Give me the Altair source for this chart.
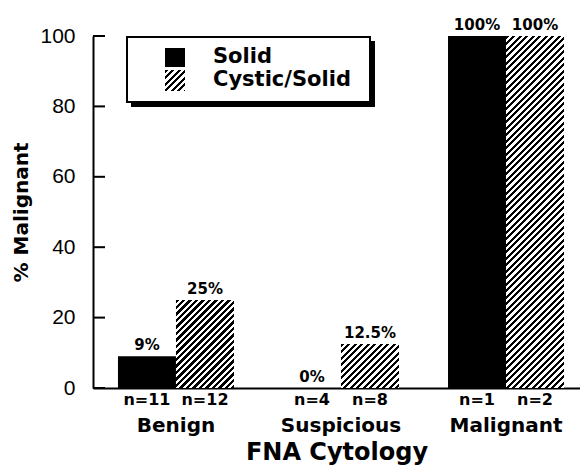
import altair as alt
import pandas as pd

groups = ["Benign", "Suspicious", "Malignant"]
series = ["Solid", "Cystic/Solid"]
solid_vals = [9, 0, 100]
cystic_vals = [25, 12.5, 100]
solid_pct = ["9%", "0%", "100%"]
cystic_pct = ["25%", "12.5%", "100%"]
solid_n = ["n=11", "n=4", "n=1"]
cystic_n = ["n=12", "n=8", "n=2"]
y_ticks = [0, 20, 40, 60, 80, 100]

rows = []
for i, g in enumerate(groups):
    rows.append({"group": g, "series": series[0], "value": solid_vals[i], "pct": solid_pct[i], "n": solid_n[i]})
    rows.append({"group": g, "series": series[1], "value": cystic_vals[i], "pct": cystic_pct[i], "n": cystic_n[i]})
df = pd.DataFrame(rows)

W, H = 487, 352
PI = 0.297
PO = 0.124
ALIGN = 0.61
step = W / (len(groups) - PI + 2 * PO)
bar_w = step * (1 - PI) / 2
BOLD = "DejaVu Sans"


def hatch(w, h, period=6.5, frac=0.5):
    total = w + h
    p = period / total
    stops = []
    k = 0
    while k * p < 1:
        a = k * p
        b = min((k + frac) * p, 1)
        c = min((k + 1) * p, 1)
        stops += [{"offset": a, "color": "black"}, {"offset": b, "color": "black"},
                  {"offset": b, "color": "white"}, {"offset": c, "color": "white"}]
        k += 1
    s = w * w + h * h
    return {"gradient": "linear", "x1": 0, "y1": 0,
            "x2": w * total / s, "y2": h * total / s, "stops": stops}


xenc = alt.X("group:N", sort=groups,
             scale=alt.Scale(domain=groups, paddingInner=PI, paddingOuter=PO, align=ALIGN),
             axis=alt.Axis(title="FNA Cytology", ticks=False, tickSize=0, labelPadding=27,
                           labelFont=BOLD, labelFontSize=20, labelFontWeight="bold",
                           labelColor="black", labelAngle=0,
                           titleFont=BOLD, titleFontSize=24, titleFontWeight="bold",
                           titleColor="black", titlePadding=5,
                           domainColor="black", domainWidth=2))
xoff = alt.XOffset("series:N", sort=series,
                   scale=alt.Scale(domain=series, paddingInner=0, paddingOuter=0))
yenc = alt.Y("value:Q", scale=alt.Scale(domain=[0, 100], nice=False),
             axis=alt.Axis(values=y_ticks, ticks=False, tickSize=0, grid=False, labelPadding=18,
                           labelFont="Liberation Sans", labelFontSize=21, labelColor="black",
                           title="% Malignant", titleFont=BOLD, titleFontSize=20,
                           titleFontWeight="bold", titleColor="black", titlePadding=8,
                           domainColor="black", domainWidth=2))

base = alt.Chart(df)

solid_layer = base.transform_filter(alt.datum.series == "Solid").mark_bar(
    fill="black").encode(x=xenc, xOffset=xoff, y=yenc)

layers = [solid_layer]
for i, g in enumerate(groups):
    h = cystic_vals[i] / 100 * H
    layers.append(
        base.transform_filter((alt.datum.series == "Cystic/Solid") & (alt.datum.group == g))
        .mark_bar(fill=hatch(bar_w, h)).encode(x=xenc, xOffset=xoff, y=yenc)
    )

pct_layer = base.mark_text(font=BOLD, fontSize=15, fontWeight="bold", baseline="bottom",
                           dy=-3, color="black").encode(
    x=xenc, xOffset=xoff, y=yenc, text="pct:N")
n_layer = base.mark_text(font=BOLD, fontSize=16, fontWeight="bold", baseline="middle",
                         color="black").encode(
    x=xenc, xOffset=xoff, y=alt.value(H + 12), text="n:N")

tick_df = pd.DataFrame({"value": y_ticks})
tick_layer = alt.Chart(tick_df).mark_rule(color="black", strokeWidth=2).encode(
    y=alt.Y("value:Q"), x=alt.value(0), x2=alt.value(12))

one = alt.Data(values=[{"k": 1}])
shadow = alt.Chart(one).mark_rect(fill="black").encode(
    x=alt.value(38), x2=alt.value(282), y=alt.value(5), y2=alt.value(71))
box = alt.Chart(one).mark_rect(fill="white", stroke="black", strokeWidth=2).encode(
    x=alt.value(34), x2=alt.value(277), y=alt.value(1), y2=alt.value(66))
sym1 = alt.Chart(one).mark_rect(fill="black").encode(
    x=alt.value(72), x2=alt.value(92), y=alt.value(12), y2=alt.value(31))
sym2 = alt.Chart(one).mark_rect(fill=hatch(20, 21)).encode(
    x=alt.value(72), x2=alt.value(92), y=alt.value(34), y2=alt.value(55))
leg_df = pd.DataFrame({"label": series, "ypos": [21, 44]})
leg_text = alt.Chart(leg_df).mark_text(font=BOLD, fontSize=21, fontWeight="bold", align="left",
                                       baseline="middle", color="black").encode(
    x=alt.value(120), y=alt.Y("ypos:Q", scale=None), text="label:N")

chart = alt.layer(*layers, pct_layer, n_layer, tick_layer, shadow, box, sym1, sym2, leg_text).properties(
    width=W, height=H,
    autosize=alt.AutoSizeParams(type="none"),
    padding={"left": 85, "top": 28, "right": 0, "bottom": 79},
    background="white",
).configure_view(stroke=None)

chart.save("out.html", embed_options={"renderer": "svg", "actions": False})
